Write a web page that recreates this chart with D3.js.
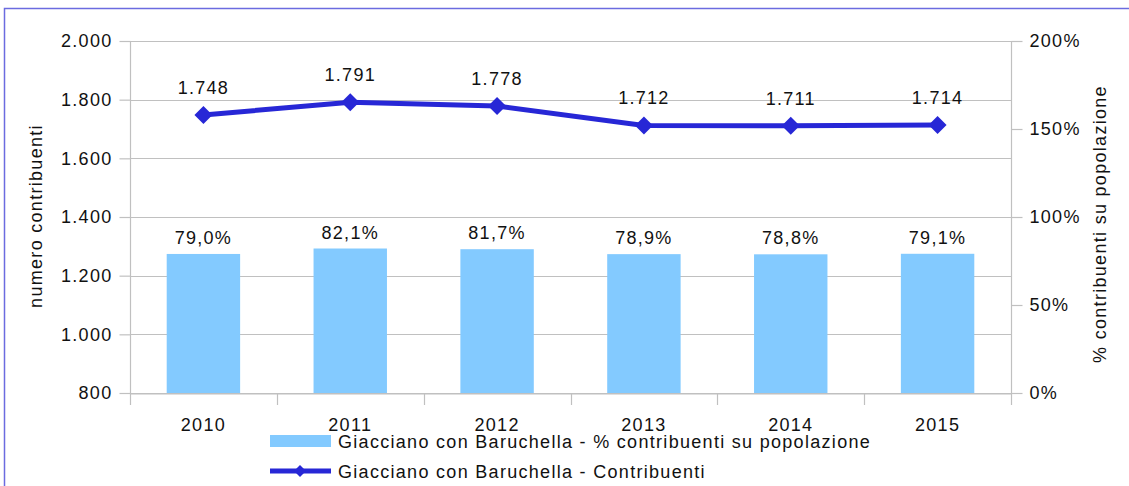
<!DOCTYPE html>
<html>
<head>
<meta charset="utf-8">
<script src="https://cdn.jsdelivr.net/npm/d3@7"></script>
<style>
body { margin: 0; background: #fff; }
svg text { font-family: "Liberation Sans", Arial, sans-serif; fill: #111; letter-spacing: 1.3px; }
</style>
</head>
<body>
<svg id="chart" width="1129" height="486"></svg>
<script>
var years = ["2010", "2011", "2012", "2013", "2014", "2015"];
var contribuenti = [1748, 1791, 1778, 1712, 1711, 1714];
var percentuali = [79.0, 82.1, 81.7, 78.9, 78.8, 79.1];
var leftTicks = [800, 1000, 1200, 1400, 1600, 1800, 2000];
var rightTicks = [0, 50, 100, 150, 200];

var svg = d3.select("#chart");
var pLeft = 130, pRight = 1011, pTop = 41, pBottom = 393;

// blue frame (only top and left are visible)
svg.append("path")
	.attr("d", "M4.5,486 V8.5 H1129")
	.attr("fill", "none")
	.attr("stroke", "#6b6be0")
	.attr("stroke-width", 1.5);

var x = d3.scaleBand().domain(years).range([pLeft, pRight]);
var yL = d3.scaleLinear().domain([800, 2000]).range([pBottom, pTop]);
var yR = d3.scaleLinear().domain([0, 200]).range([pBottom, pTop]);

var itNum = d3.formatLocale({decimal: ",", thousands: ".", grouping: [3], currency: ["€", ""]});
var fmtNum = itNum.format(",d");

// grid
svg.append("g").selectAll("line").data(leftTicks).join("line")
	.attr("x1", pLeft).attr("x2", pRight)
	.attr("y1", d => Math.round(yL(d)) + 0.5).attr("y2", d => Math.round(yL(d)) + 0.5)
	.attr("stroke", "#c0c0c0").attr("stroke-width", 1.2);

// left axis
var axL = svg.append("g").attr("transform", "translate(" + (pLeft + 0.5) + ",0)")
	.call(d3.axisLeft(yL).tickValues(leftTicks).tickSize(11).tickPadding(7).tickFormat(fmtNum));
axL.select(".domain").attr("stroke", "#c0c0c0").attr("stroke-width", 1.2).attr("d", "M0," + pTop + "V" + pBottom);
axL.selectAll(".tick line").attr("stroke", "#c0c0c0").attr("stroke-width", 1.2);
axL.selectAll(".tick text").style("font-size", "18px").attr("fill", "#111");

// right axis
var axR = svg.append("g").attr("transform", "translate(" + (pRight + 0.5) + ",0)")
	.call(d3.axisRight(yR).tickValues(rightTicks).tickSize(11).tickPadding(7).tickFormat(d => d + "%"));
axR.select(".domain").attr("stroke", "#c0c0c0").attr("stroke-width", 1.2).attr("d", "M0," + pTop + "V" + pBottom);
axR.selectAll(".tick line").attr("stroke", "#c0c0c0").attr("stroke-width", 1.2);
axR.selectAll(".tick text").style("font-size", "18px").attr("fill", "#111");

// bottom axis
var axB = svg.append("g").attr("transform", "translate(0," + (pBottom + 0.5) + ")")
	.call(d3.axisBottom(x).tickSize(0).tickPadding(25));
axB.select(".domain").attr("stroke", "#c0c0c0").attr("stroke-width", 1.2);
axB.selectAll(".tick text").style("font-size", "18px").attr("fill", "#111");
svg.append("g").selectAll("line").data(years.concat(["end"])).join("line")
	.attr("x1", (d, i) => Math.round(pLeft + i * x.bandwidth()) + 0.5)
	.attr("x2", (d, i) => Math.round(pLeft + i * x.bandwidth()) + 0.5)
	.attr("y1", pBottom).attr("y2", pBottom + 12)
	.attr("stroke", "#c0c0c0").attr("stroke-width", 1.2);

// bars
var bw = x.bandwidth() * 0.5;
svg.append("g").selectAll("rect").data(percentuali).join("rect")
	.attr("x", (d, i) => x(years[i]) + (x.bandwidth() - bw) / 2)
	.attr("y", d => yR(d))
	.attr("width", bw)
	.attr("height", d => pBottom - yR(d))
	.attr("fill", "#83caff");

svg.append("g").selectAll("text").data(percentuali).join("text")
	.attr("x", (d, i) => x(years[i]) + x.bandwidth() / 2)
	.attr("y", d => yR(d) - 10)
	.attr("text-anchor", "middle")
	.style("font-size", "18px")
	.text(d => d.toFixed(1).replace(".", ",") + "%");

// line
var cx = (d, i) => x(years[i]) + x.bandwidth() / 2;
svg.append("path").datum(contribuenti)
	.attr("d", d3.line().x(cx).y(d => yL(d)))
	.attr("fill", "none")
	.attr("stroke", "#2727d6")
	.attr("stroke-width", 5);

svg.append("g").selectAll("path").data(contribuenti).join("path")
	.attr("transform", (d, i) => "translate(" + cx(d, i) + "," + yL(d) + ")")
	.attr("d", "M0,-9L9,0L0,9L-9,0Z")
	.attr("fill", "#2727d6");

svg.append("g").selectAll("text").data(contribuenti).join("text")
	.attr("x", cx)
	.attr("y", d => yL(d) - 21)
	.attr("text-anchor", "middle")
	.style("font-size", "18px")
	.text(d => fmtNum(d));

// axis titles
svg.append("text")
	.attr("transform", "translate(42,216) rotate(-90)")
	.attr("text-anchor", "middle")
	.style("font-size", "18px")
	.text("numero contribuenti");
svg.append("text")
	.attr("transform", "translate(1106,224) rotate(-90)")
	.attr("text-anchor", "middle")
	.style("font-size", "18px")
	.text("% contribuenti su popolazione");

// legend
var leg = svg.append("g");
leg.append("rect").attr("x", 270).attr("y", 435).attr("width", 61).attr("height", 12).attr("fill", "#83caff");
leg.append("text").attr("x", 338).attr("y", 448).style("font-size", "18px")
	.text("Giacciano con Baruchella - % contribuenti su popolazione");
leg.append("line").attr("x1", 270).attr("x2", 331).attr("y1", 471).attr("y2", 471)
	.attr("stroke", "#2727d6").attr("stroke-width", 5);
leg.append("path").attr("transform", "translate(300,471)").attr("d", "M0,-6L6,0L0,6L-6,0Z").attr("fill", "#2727d6");
leg.append("text").attr("x", 338).attr("y", 478).style("font-size", "18px")
	.text("Giacciano con Baruchella - Contribuenti");
</script>
</body>
</html>
